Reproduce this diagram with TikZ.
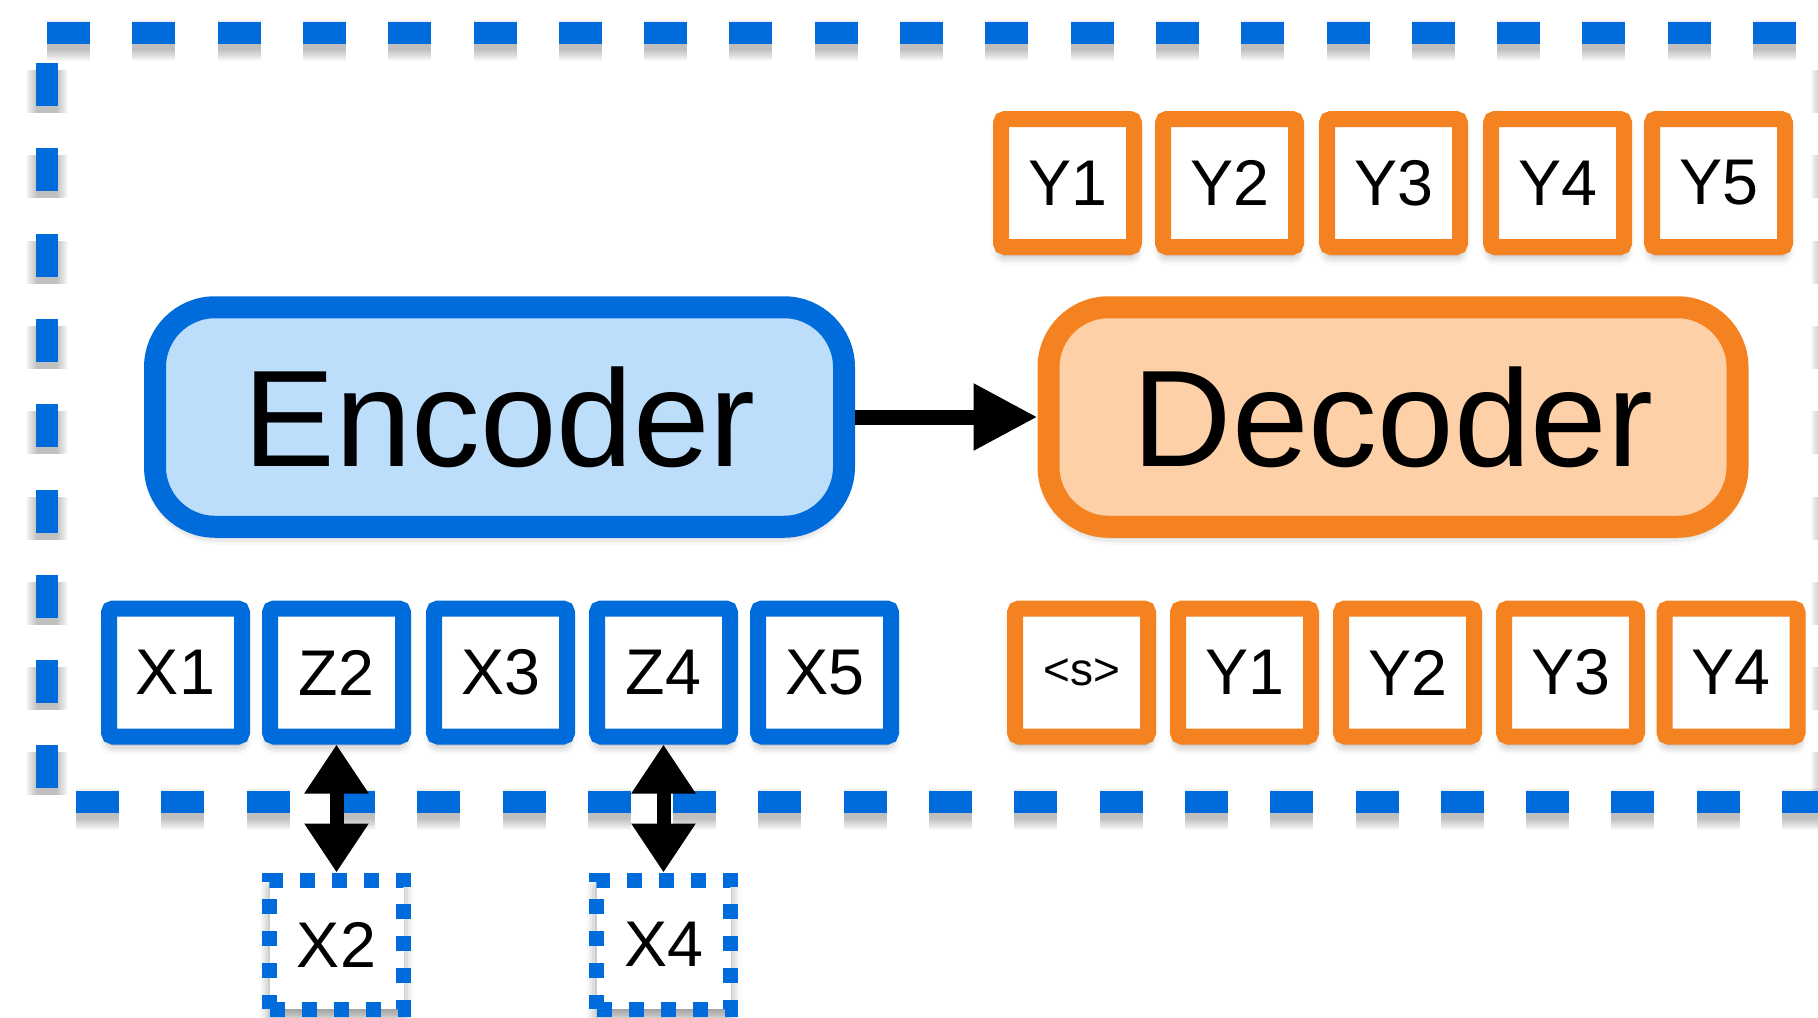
\documentclass[tikz,border=0pt]{standalone}
\usepackage{fontspec}
\setmainfont{Liberation Sans}
\usetikzlibrary{arrows.meta,shadows.blur}

\definecolor{encblue}{RGB}{0,108,219}
\definecolor{encfill}{RGB}{189,222,251}
\definecolor{decorange}{RGB}{244,130,32}
\definecolor{decfill}{RGB}{253,208,167}

\tikzset{
  softshadow/.style={blur shadow={shadow xshift=0pt, shadow yshift=-4pt,
      shadow blur radius=5pt, shadow opacity=40}},
  tok/.style={rectangle, draw, line width=8pt, minimum width=66.5pt,
      minimum height=64pt, inner sep=0pt, fill=white, rounded corners=2pt,
      font=\fontsize{32.3}{32.3}\selectfont, softshadow},
  enctok/.style={tok, draw=encblue},
  dectok/.style={tok, draw=decorange},
  masked/.style={rectangle, draw=encblue, line width=7.5pt,
      dash pattern=on 7.5pt off 8.5pt, minimum width=67pt, minimum height=64.5pt,
      inner sep=0pt, fill=white, font=\fontsize{32.3}{32.3}\selectfont, softshadow},
  block/.style={rectangle, line width=11pt, minimum width=344.5pt,
      minimum height=109.75pt, rounded corners=30pt, inner sep=0pt,
      font=\fontsize{68.8}{68.8}\selectfont, softshadow},
  frameline/.style={encblue, line width=11pt, dash pattern=on 21.5pt off 21.15pt},
  frameshade/.style={black, opacity=0.022, dash pattern=on 21.5pt off 21.15pt,
      shift={(0,7)}},
  link/.style={line width=7.5pt, -{Triangle[length=32pt,width=31.5pt]}},
  pairlink/.style={line width=7pt,
      {Triangle[length=24.5pt,width=30.5pt]}-{Triangle[length=24.5pt,width=30.5pt]}},
}

\begin{document}
\begin{tikzpicture}[x=0.5pt, y=-0.5pt]
  \useasboundingbox (0,0) rectangle (1818,1017);
  \clip (0,0) rectangle (1818,1017);

  % dashed frame round the encoder-decoder pair, with a soft shadow
  \foreach \w in {10,11,...,21} {
    \draw[frameshade, line width=\w pt] (47,32.5) -- (1845,32.5);
    \draw[frameshade, line width=\w pt] (47,63) -- (47,790);
    \draw[frameshade, line width=\w pt] (76,802) -- (1845,802);
    \draw[frameshade, line width=\w pt] (1832,63) -- (1832,790);
  }
  \draw[frameline] (47,32.5) -- (1845,32.5);
  \draw[frameline] (47,63) -- (47,790);
  \draw[frameline] (76,802) -- (1845,802);
  \draw[frameline] (1832,63) -- (1832,790);

  % encoder and decoder blocks
  \node[block, draw=encblue, fill=encfill] (enc) at (499.5,417) {Encoder};
  \node[block, draw=decorange, fill=decfill] (dec) at (1393,417) {Decoder};

  % decoder outputs
  \node[dectok] (o1) at (1067.5,183) {Y1};
  \node[dectok] (o2) at (1229.5,183) {Y2};
  \node[dectok] (o3) at (1393.5,183) {Y3};
  \node[dectok] (o4) at (1557.5,183) {Y4};
  \node[dectok] (o5) at (1718.5,183) {Y5};

  % encoder inputs
  \node[enctok] (x1) at (175.5,672.5) {X1};
  \node[enctok] (z2) at (336.5,672.5) {Z2};
  \node[enctok] (x3) at (500.5,672.5) {X3};
  \node[enctok] (z4) at (663.5,672.5) {Z4};
  \node[enctok] (x5) at (824.5,672.5) {X5};

  % decoder inputs
  \node[dectok, font=\fontsize{23}{23}\selectfont] (s0) at (1081.5,672.5) {<s>};
  \node[dectok] (i1) at (1244.5,672.5) {Y1};
  \node[dectok] (i2) at (1407.5,672.5) {Y2};
  \node[dectok] (i3) at (1570.5,672.5) {Y3};
  \node[dectok] (i4) at (1731,672.5) {Y4};

  % original tokens behind the masked positions
  \node[masked] (x2) at (336.5,944.5) {X2};
  \node[masked] (x4) at (663.5,944.5) {X4};

  % connectors
  \draw[link] (enc.east) -- (dec.west);
  \draw[pairlink] (z2.south) -- (x2.north);
  \draw[pairlink] (z4.south) -- (x4.north);
\end{tikzpicture}
\end{document}
